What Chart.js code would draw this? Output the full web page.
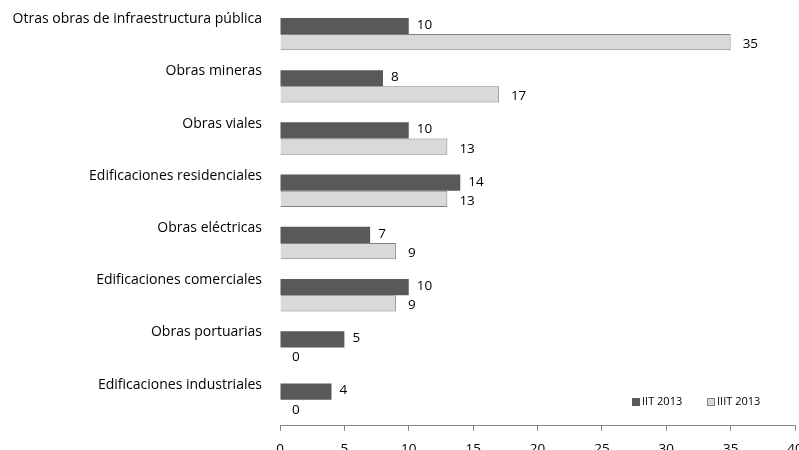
<!DOCTYPE html>
<html><head><meta charset="utf-8">
<script src="https://cdn.jsdelivr.net/npm/chart.js@4.4.0/dist/chart.umd.min.js"></script>
<style>
html,body{margin:0;padding:0;background:#fff;overflow:hidden;width:799px;height:450px;}
#wrap{position:absolute;left:0;top:0;width:815px;height:470px;}
</style></head>
<body>
<div id="wrap"><canvas id="c" width="815" height="470"></canvas></div>
<script>
const categories = ["Otras obras de infraestructura pública","Obras mineras","Obras viales","Edificaciones residenciales","Obras eléctricas","Edificaciones comerciales","Obras portuarias","Edificaciones industriales"];
const seriesNames = ["IIT 2013","IIIT 2013"];
const iit2013 = [10,8,10,14,7,10,5,4];
const iiit2013 = [35,17,13,13,9,9,0,0];
const xTicks = [0,5,10,15,20,25,30,35,40];

const FONT = "'Open Sans', sans-serif";

const valueLabels = {
  id:'valueLabels',
  afterDatasetsDraw(chart){
    const ctx = chart.ctx;
    ctx.save();
    ctx.font = "13.5px " + FONT;
    ctx.fillStyle = "#000";
    ctx.textBaseline = "middle";
    ctx.textAlign = "left";
    chart.data.datasets.forEach((ds, di) => {
      const meta = chart.getDatasetMeta(di);
      meta.data.forEach((bar, i) => {
        const v = ds.data[i];
        const dx = di === 0 ? 8 : 12;
        const dy = di === 0 ? -1 : 2;
        ctx.fillText(String(v), bar.x + dx, bar.y + dy);
      });
    });
    ctx.restore();
  }
};

const customLegend = {
  id:'customLegend',
  afterDraw(chart){
    const ctx = chart.ctx;
    ctx.save();
    ctx.font = "11px " + FONT;
    ctx.textBaseline = "middle";
    ctx.textAlign = "left";
    const y = 402;
    const items = [
      {x:632, fill:"#595959", stroke:"#595959", text:seriesNames[0]},
      {x:707, fill:"#d9d9d9", stroke:"#808080", text:seriesNames[1]}
    ];
    items.forEach(it => {
      ctx.fillStyle = it.fill;
      ctx.fillRect(it.x, y-4, 8, 8);
      ctx.strokeStyle = it.stroke;
      ctx.lineWidth = 1;
      ctx.strokeRect(it.x+0.5, y-3.5, 7, 7);
      ctx.fillStyle = "#000";
      ctx.fillText(it.text, it.x + 10, y);
    });
    ctx.restore();
  }
};

new Chart(document.getElementById('c'), {
  type:'bar',
  data:{
    labels: categories,
    datasets:[
      {label:seriesNames[0], data:iit2013, backgroundColor:"#595959", borderWidth:0, categoryPercentage:0.62, barPercentage:1},
      {label:seriesNames[1], data:iiit2013, backgroundColor:"#d9d9d9", borderColor:"#7f7f7f", borderWidth:1, categoryPercentage:0.62, barPercentage:1}
    ]
  },
  options:{
    indexAxis:'y',
    responsive:false,
    animation:false,
    layout:{padding:{top:8, right:20, bottom:3, left:0}},
    plugins:{legend:{display:false}, tooltip:{enabled:false}, title:{display:false}},
    scales:{
      x:{
        min:0, max:40,
        afterBuildTicks(s){ s.ticks = xTicks.map(v=>({value:v})); },
        grid:{drawOnChartArea:false, tickLength:5, color:"#868686"},
        border:{color:"#868686"},
        ticks:{font:{family:FONT, size:13.5}, color:"#000", padding:10, maxRotation:0}
      },
      y:{
        afterFit(s){ s.width = 280; s.paddingTop = 0; s.paddingBottom = 0; },
        grid:{display:false},
        border:{display:false},
        ticks:{font:{family:FONT, size:14}, color:"#000", padding:10, labelOffset:-15}
      }
    }
  },
  plugins:[valueLabels, customLegend]
});
</script>
</body></html>
